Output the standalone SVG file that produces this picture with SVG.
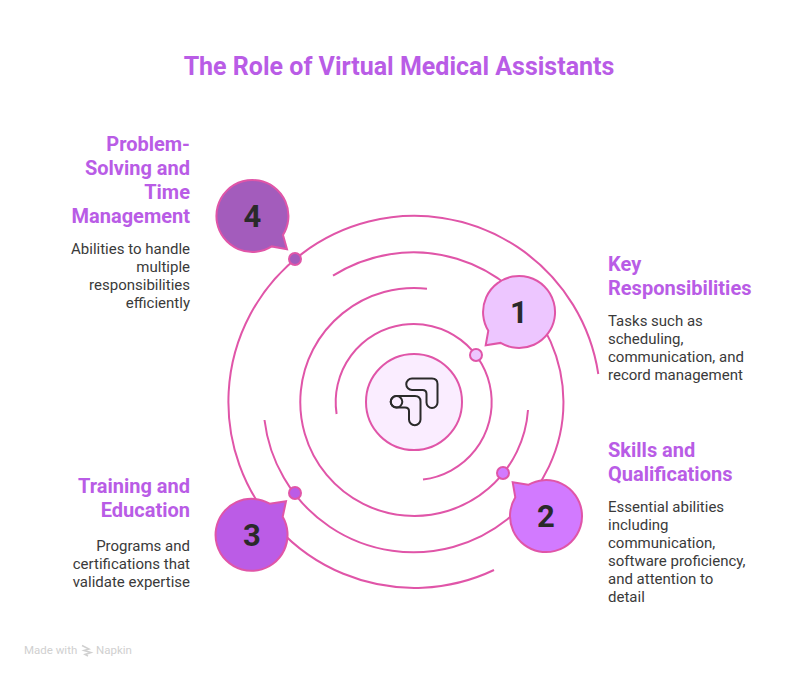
<svg xmlns="http://www.w3.org/2000/svg" width="798" height="678" viewBox="0 0 798 678">
<style>
text{font-family:Roboto,"Liberation Sans",sans-serif}
.title{font-size:25px;font-weight:700;fill:#B95CE6}
.head{font-size:20px;font-weight:700;fill:#B95CE6}
.body{font-size:15px;fill:#3A3A3A}
.num{font-size:31px;font-weight:700;fill:#2A2A2A;text-anchor:middle}
.end{text-anchor:end}
.ring{fill:none;stroke:#E055A8;stroke-width:2}
.bub{stroke:#E055A8;stroke-width:2;stroke-linejoin:miter}
.mark{font-size:11.5px;fill:#D0D0D0}
.icon{fill:none;stroke:#2A2A2A;stroke-width:2}
</style>
<rect width="798" height="678" fill="#fff"/>
<text class="title" x="399" y="75" text-anchor="middle">The Role of Virtual Medical Assistants</text>
<g id="connectors">
<path class="ring" d="M423,479.5A78,78 0 1 0 336.600,414"/>
<path class="ring" d="M427,288.7A114,114 0 1 0 528,410"/>
<path class="ring" d="M333,275.7A150,150 0 1 1 264.5,420"/>
<path class="ring" d="M494,570A186,186 0 1 1 598.3,374"/>
</g>
<g id="center">
<circle cx="414" cy="402" r="48" fill="#FAEDFF" stroke="#E055A8" stroke-width="2"/>
<path class="icon" d="M412,378.5H432Q437.5,378.5 437.5,384V402.5a5.5,5.5 0 0 1 -11,0V394Q426.5,390 422.5,390H412a5.75,5.75 0 0 1 0,-11.5Z"/>
<path class="icon" d="M396.5,396H415Q420.5,396 420.5,401.5V419.5a5.75,5.75 0 0 1 -11.5,0V411Q409,407.5 405,407.5H396.5a5.75,5.75 0 0 1 0,-11.5Z"/>
<circle class="icon" cx="396.5" cy="401.8" r="5.8"/>
</g>
<g id="node-1">
<circle cx="476" cy="355" r="6" fill="#EDC6FF" stroke="#E055A8" stroke-width="2"/>
<path class="bub" fill="#EDC6FF" d="M485.7,345.3L488.3,330.7A36,36 0 1 1 500.600,342.900Z"/>
<text class="num" x="519" y="323">1</text>
<text class="head" x="608" y="271">Key</text>
<text class="head" x="608" y="295">Responsibilities</text>
<text class="body" x="608" y="326">Tasks such as</text>
<text class="body" x="608" y="344">scheduling,</text>
<text class="body" x="608" y="362">communication, and</text>
<text class="body" x="608" y="380">record management</text>
</g>
<g id="node-2">
<circle cx="503" cy="473" r="6" fill="#D27AFF" stroke="#E055A8" stroke-width="2"/>
<path class="bub" fill="#D27AFF" d="M512.7,482.3L528.2,484.800A36,36 0 1 1 515.3,497.3Z"/>
<text class="num" x="546" y="527">2</text>
<text class="head" x="608" y="457">Skills and</text>
<text class="head" x="608" y="481">Qualifications</text>
<text class="body" x="608" y="512">Essential abilities</text>
<text class="body" x="608" y="530">including</text>
<text class="body" x="608" y="548">communication,</text>
<text class="body" x="608" y="566">software proficiency,</text>
<text class="body" x="608" y="584">and attention to</text>
<text class="body" x="608" y="602">detail</text>
</g>
<g id="node-3">
<circle cx="295" cy="493" r="6" fill="#BB5CE6" stroke="#E055A8" stroke-width="2"/>
<path class="bub" fill="#BB5CE6" d="M286,501.3L269.600,503.700A36,36 0 1 0 282.700,516.800Z"/>
<text class="num" x="252" y="546">3</text>
<text class="head end" x="190" y="493">Training and</text>
<text class="head end" x="190" y="517">Education</text>
<text class="body end" x="190" y="551">Programs and</text>
<text class="body end" x="190" y="569">certifications that</text>
<text class="body end" x="190" y="587">validate expertise</text>
</g>
<g id="node-4">
<circle cx="295" cy="259" r="6" fill="#A35CBC" stroke="#E055A8" stroke-width="2"/>
<path class="bub" fill="#A35CBC" d="M287,249.3L271.700,246.400A36,36 0 1 1 283,235Z"/>
<text class="num" x="252.5" y="227">4</text>
<text class="head end" x="190" y="151">Problem-</text>
<text class="head end" x="190" y="175">Solving and</text>
<text class="head end" x="190" y="199">Time</text>
<text class="head end" x="190" y="223">Management</text>
<text class="body end" x="190" y="254">Abilities to handle</text>
<text class="body end" x="190" y="272">multiple</text>
<text class="body end" x="190" y="290">responsibilities</text>
<text class="body end" x="190" y="308">efficiently</text>
</g>
<g id="watermark">
<text class="mark" x="24" y="654">Made with</text>
<path d="M82,645.500l7,3.500-5,1.500 7,2-6,2 3,1.500" stroke="#D0D0D0" stroke-width="1.500" fill="none"/>
<text class="mark" x="96" y="654">Napkin</text>
</g>
</svg>
